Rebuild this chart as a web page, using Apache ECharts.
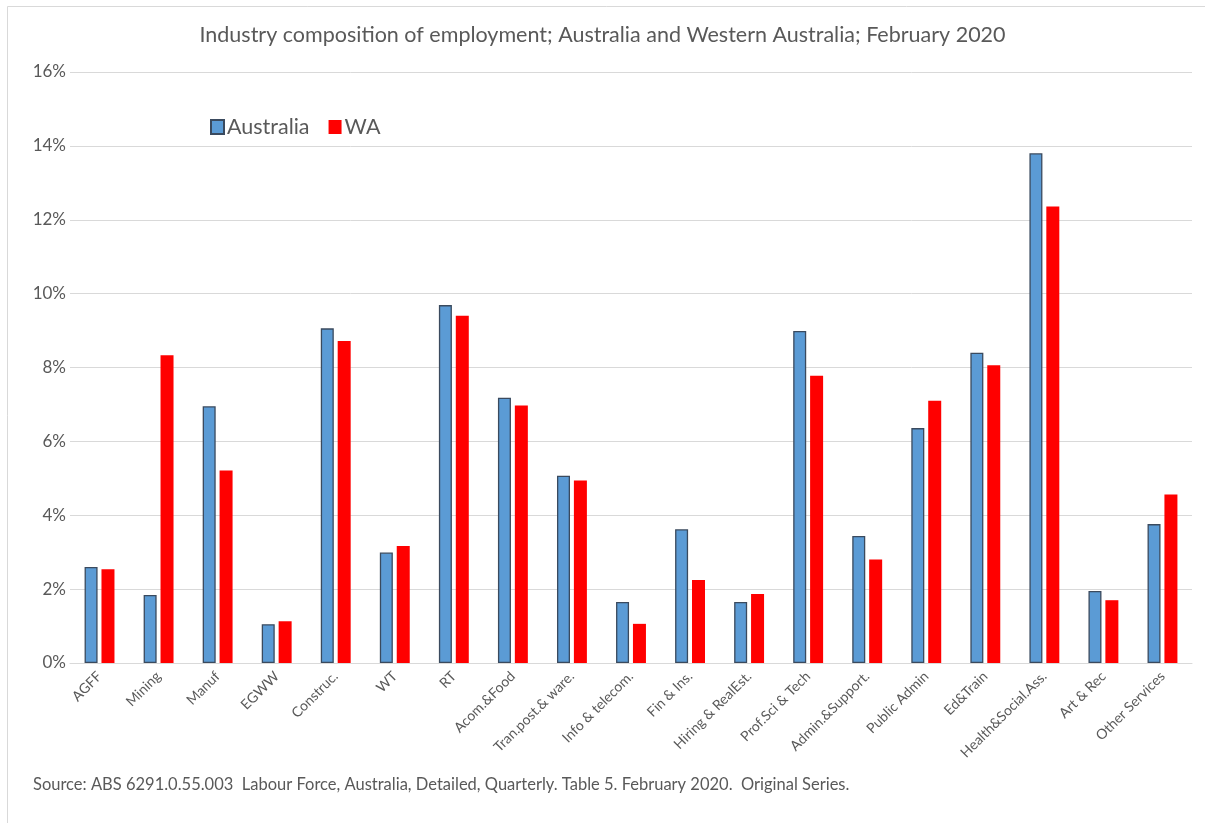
<!DOCTYPE html>
<html>
<head>
<meta charset="utf-8">
<title>Industry composition of employment</title>
<script src="https://cdn.jsdelivr.net/npm/echarts@6/dist/echarts.min.js"></script>
<style>
  html, body { margin: 0; padding: 0; background: #ffffff; }
  #chart { width: 1205px; height: 823px; }
</style>
</head>
<body>
<div id="chart"></div>
<script>
// Industry categories (ANZSIC divisions, abbreviated)
const industries = [
  'AGFF', 'Mining', 'Manuf', 'EGWW', 'Construc.', 'WT', 'RT', 'Acom.&Food',
  'Tran.post.& ware.', 'Info & telecom.', 'Fin & Ins.', 'Hiring & RealEst.',
  'Prof.Sci & Tech', 'Admin.&Support.', 'Public Admin', 'Ed&Train',
  'Health&Social.Ass.', 'Art & Rec', 'Other Services'
];

// Share of total employment, per cent
const australia = [2.60, 1.84, 6.95, 1.05, 9.06, 2.99, 9.69, 7.18, 5.07, 1.65,
                   3.62, 1.65, 8.99, 3.44, 6.36, 8.40, 13.80, 1.95, 3.76];
const westernAustralia = [2.54, 8.33, 5.21, 1.13, 8.72, 3.17, 9.40, 6.97, 4.94, 1.06,
                          2.25, 1.87, 7.78, 2.80, 7.10, 8.06, 12.36, 1.70, 4.56];

const yTicks = { min: 0, max: 16, step: 2 };

const titleText = 'Industry composition of employment; Australia and Western Australia; February 2020';
const sourceText = 'Source: ABS 6291.0.55.003  Labour Force, Australia, Detailed, Quarterly. Table 5. February 2020.  Original Series.';

const font = 'Lato, "Liberation Sans", sans-serif';
const textGrey = '#595959';
const gridGrey = '#d9d9d9';

const chart = echarts.init(document.getElementById('chart'), null, { renderer: 'canvas' });

chart.setOption({
  animation: false,
  backgroundColor: '#ffffff',
  textStyle: { fontFamily: font },
  title: {
    text: titleText,
    left: 'center',
    top: 19,
    textStyle: { fontFamily: font, fontSize: 21.5, fontWeight: 'normal', color: textGrey }
  },
  legend: {
    left: 205,
    top: 111,
    icon: 'rect',
    itemWidth: 13,
    itemHeight: 14,
    itemGap: 19,
    textStyle: { fontFamily: font, fontSize: 21.5, color: textGrey, padding: [0, 0, 0, -2] },
    data: ['Australia', 'WA']
  },
  grid: { left: 70, right: 13, top: 72, bottom: 160, containLabel: false },
  xAxis: {
    type: 'category',
    data: industries,
    axisLine: { show: true, lineStyle: { color: gridGrey, width: 1 } },
    axisTick: { show: false },
    axisLabel: {
      interval: 0,
      rotate: 45,
      margin: 11,
      fontFamily: font,
      fontSize: 14,
      color: textGrey
    }
  },
  yAxis: {
    type: 'value',
    min: yTicks.min,
    max: yTicks.max,
    interval: yTicks.step,
    axisLine: { show: false },
    axisTick: { show: false },
    splitLine: { lineStyle: { color: gridGrey, width: 1 } },
    axisLabel: {
      formatter: '{value}%',
      margin: 4,
      fontFamily: font,
      fontSize: 17,
      color: textGrey
    }
  },
  series: [
    {
      name: 'Australia',
      type: 'bar',
      data: australia,
      barWidth: 13,
      barGap: '30%',
      itemStyle: { color: '#5b9bd5', borderColor: '#3a4a5e', borderWidth: 1.3 }
    },
    {
      name: 'WA',
      type: 'bar',
      data: westernAustralia,
      barWidth: 13,
      itemStyle: { color: '#ff0000' }
    }
  ],
  graphic: [
    // chart frame
    {
      type: 'polyline',
      shape: { points: [[7.5, 830], [7.5, 6.5], [1210, 6.5]] },
      style: { stroke: gridGrey, lineWidth: 1, fill: null },
      silent: true
    },
    {
      type: 'text',
      left: 33,
      top: 776,
      style: { text: sourceText, fontFamily: font, fontSize: 16.5, fill: textGrey }
    }
  ]
});
</script>
</body>
</html>
